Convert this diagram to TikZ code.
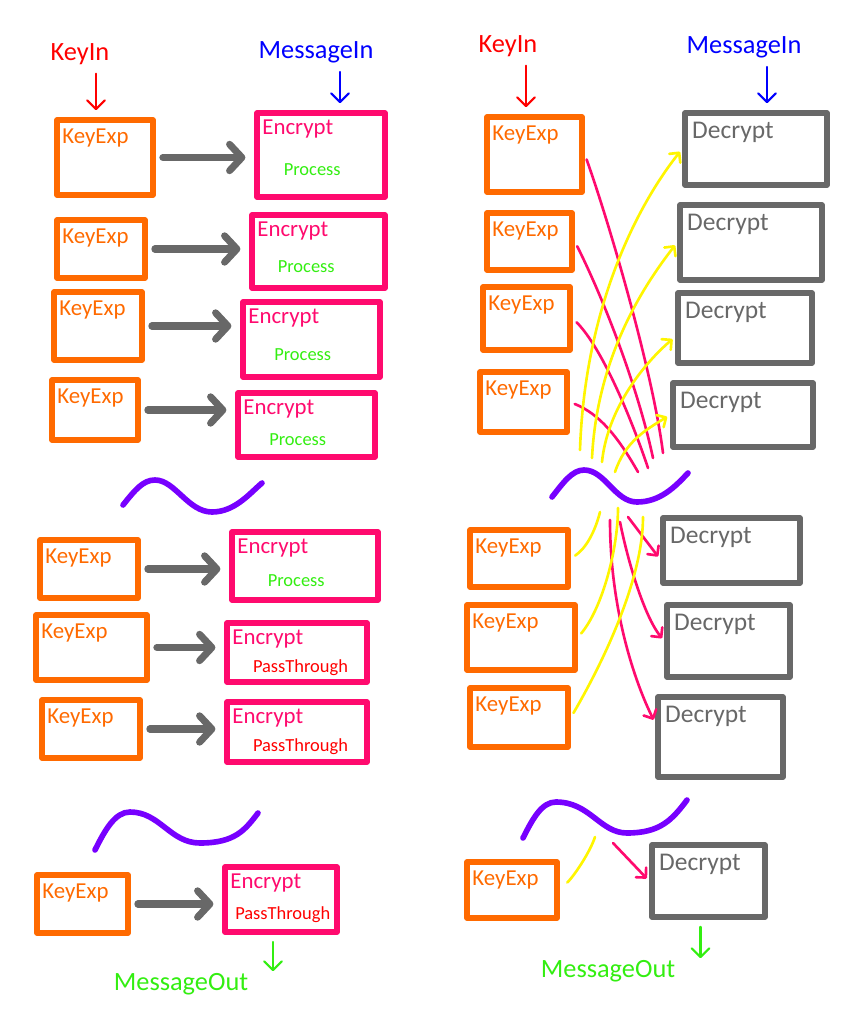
\documentclass[tikz,border=0pt]{standalone}
\usepackage{fontspec}
\setmainfont{Carlito}
\usepackage{tikz}
\usetikzlibrary{arrows.meta,fit,calc,positioning}

\definecolor{keyorange}{HTML}{FF6A00}
\definecolor{encpink}{HTML}{FF0A6E}
\definecolor{decgray}{HTML}{686868}
\definecolor{wavepurple}{HTML}{7700FF}
\definecolor{hiyellow}{HTML}{FFF500}
\definecolor{procgreen}{HTML}{33EE11}
\definecolor{keyred}{HTML}{FF0000}
\definecolor{msgblue}{HTML}{0000FF}

\begin{document}
\begin{tikzpicture} [
  x = 0.02cm, y = -0.02cm,
  box/.style = { line width = 3.2pt, inner sep = 0, line join = round },
  keybox/.style = { box, draw = keyorange },
  encbox/.style = { box, draw = encpink },
  decbox/.style = { box, draw = decgray },
  boxtxt/.style = { anchor = north west, inner sep = 0, xshift = 4.5pt, yshift = -6.5pt },
  keytxt/.style = { boxtxt, text = keyorange, font = \fontsize{13}{15}\selectfont },
  enctxt/.style = { boxtxt, text = encpink, yshift = 1pt, font = \fontsize{13}{15}\selectfont },
  dectxt/.style = { boxtxt, text = decgray, xshift = 1pt, font = \fontsize{14.5}{17}\selectfont },
  modetxt/.style = { anchor = center, inner sep = 0, yshift = -8.5pt, font = \fontsize{10.5}{12}\selectfont },
  iotxt/.style = { inner sep = 1pt, font = \fontsize{15}{18}\selectfont },
  ioarr/.style = { line width = 1.2pt, line cap = round, -{Straight Barb[round, length=5pt, width=10pt]},
                   shorten < = 4pt, shorten > = 4pt },
  steparr/.style = { draw = decgray, line width = 4pt, line cap = round,
                     -{Straight Barb[round, length=7pt, width=15pt]}, shorten < = 4pt, shorten > = 5pt },
  keyline/.style = { draw = encpink, line width = 1.5pt, line cap = round },
  msgline/.style = { draw = hiyellow, line width = 1.5pt, line cap = round },
  headed/.style = { -{Straight Barb[round, length=4pt, width=8pt]}, shorten > = 2pt },
  wave/.style = { draw = wavepurple, line width = 3.2pt, line cap = round }
  ]

  \useasboundingbox (0,0) rectangle (866,1034);

  % key expansion boxes
  \foreach \n/\xa/\ya/\xb/\yb in {
      kl1/57/120/153/195, kl2/57/220/145/278, kl3/54/292/142/360, kl4/52/380/138/440,
      kl5/40/540/138/598, kl6/36/615/147/680, kl7/42/700/140/758, kl8/37/875/128/933,
      kr1/487/117/582/192, kr2/487/213/572/270, kr3/483/287/570/350, kr4/480/372/567/432,
      kr5/470/530/568/587, kr6/467/605/575/670, kr7/470/688/568/747, kr8/467/862/557/918}
  {
    \node[keybox, fit={(\xa,\ya) (\xb,\yb)}] (\n) {};
    \node[keytxt] (t\n) at (\n.north west) {KeyExp};
  }

  % encrypt boxes
  \foreach \n/\xa/\ya/\xb/\yb/\md/\cl/\dx in {
      el1/257/113/385/197/Process/procgreen/-5pt, el2/252/215/385/288/Process/procgreen/-7pt,
      el3/243/302/380/377/Process/procgreen/-5pt, el4/238/393/375/457/Process/procgreen/-5pt,
      el5/232/532/378/600/Process/procgreen/-5pt, el6/227/623/367/682/PassThrough/keyred/2pt,
      el7/227/702/367/762/PassThrough/keyred/2pt, el8/225/867/337/932/PassThrough/keyred/1pt}
  {
    \node[encbox, fit={(\xa,\ya) (\xb,\yb)}] (\n) {};
    \node[enctxt] (t\n) at (\n.north west) {Encrypt};
    \node[modetxt, text = \cl, xshift = \dx] (m\n) at (\n.center) {\md};
  }

  % decrypt boxes
  \foreach \n/\xa/\ya/\xb/\yb in {
      dr1/685/113/827/185, dr2/680/205/822/280, dr3/678/293/812/363, dr4/673/383/813/447,
      dr5/663/518/800/583, dr6/667/605/790/677, dr7/658/697/783/777, dr8/652/845/765/917}
  {
    \node[decbox, fit={(\xa,\ya) (\xb,\yb)}] (\n) {};
    \node[dectxt] (t\n) at (\n.north west) {Decrypt};
  }

  % inputs and outputs
  \node[iotxt, text = keyred] (kinl) at (80,54) {KeyIn};
  \node[iotxt, text = msgblue] (minl) at (316,52) {MessageIn};
  \node[iotxt, text = keyred] (kinr) at (508,46) {KeyIn};
  \node[iotxt, text = msgblue] (minr) at (744,47) {MessageIn};
  \node[iotxt, text = procgreen] (moutl) at (181,984) {MessageOut};
  \node[iotxt, text = procgreen] (moutr) at (608,971) {MessageOut};

  \draw[ioarr, keyred] ($(kinl.south)+(16,0)$) -- ($(kinl.south |- kl1.north)+(16,0)$);
  \draw[ioarr, msgblue] ($(minl.south)+(24,0)$) -- ($(minl.south |- el1.north)+(24,0)$);
  \draw[ioarr, keyred] ($(kinr.south)+(18,0)$) -- ($(kinr.south |- kr1.north)+(18,0)$);
  \draw[ioarr, msgblue] ($(minr.south)+(23,0)$) -- ($(minr.south |- dr1.north)+(23,0)$);
  \draw[ioarr, procgreen, shorten > = 0pt] ($(el8.south)+(-8,0)$) -- ($(el8.south |- moutl.north)+(-8,0)$);
  \draw[ioarr, procgreen, shorten > = 0pt] ($(dr8.south)+(-8,0)$) -- ($(dr8.south |- moutr.north)+(-8,0)$);

  % one step per round
  \foreach \i in {1,...,8}
    \draw[steparr] (kl\i.east) -- (kl\i.east -| el\i.west);

  % the gaps
  \draw[wave] (123,505) .. controls (135,490) and (143,480) .. (155,480)
              .. controls (175,480) and (188,512) .. (212,512)
              .. controls (235,512) and (250,493) .. (262,483);
  \draw[wave] (95,850) .. controls (105,830) and (115,812) .. (130,812)
              .. controls (160,812) and (170,843) .. (200,843)
              .. controls (235,843) and (245,830) .. (258,813);
  \draw[wave] (552,497) .. controls (563,483) and (572,470) .. (584,470)
              .. controls (605,470) and (615,502) .. (637,502)
              .. controls (660,502) and (675,487) .. (688,473);
  \draw[wave] (523,838) .. controls (533,818) and (542,802) .. (556,802)
              .. controls (590,802) and (600,833) .. (627,833)
              .. controls (660,833) and (672,820) .. (687,800);

  % keys run down, messages run up
  \coordinate (ku1) at (663,453);
  \coordinate (ku2) at (653,458);
  \coordinate (ku3) at (648,468);
  \coordinate (ku4) at (638,472);
  \coordinate (kd1) at (628,517);
  \coordinate (kd2) at (620,522);
  \coordinate (kd3) at (610,520);
  \coordinate (kd4) at (613,843);
  \coordinate (mu1) at (580,450);
  \coordinate (mu2) at (592,458);
  \coordinate (mu3) at (602,462);
  \coordinate (mu4) at (615,472);
  \coordinate (md1) at (600,512);
  \coordinate (md2) at (618,508);
  \coordinate (md3) at (643,517);
  \coordinate (md4) at (595,837);

  \draw[keyline, shorten < = 3pt] (kr1.east) .. controls +(25,70) and +(-10,-80) .. (ku1);
  \draw[keyline, shorten < = 3pt] (kr2.east) .. controls +(30,60) and +(-15,-70) .. (ku2);
  \draw[keyline, shorten < = 3pt] (kr3.east) .. controls +(30,30) and +(-15,-45) .. (ku3);
  \draw[keyline, shorten < = 3pt] (kr4.east) .. controls +(30,12) and +(-20,-35) .. (ku4);
  \draw[keyline, headed] (kd1) -- ([yshift=-5pt]dr5.west);
  \draw[keyline, headed] (kd2) .. controls +(8,40) and +(-20,-25) .. (dr6.west);
  \draw[keyline, headed] (kd3) .. controls +(0,90) and +(-20,-40) .. ([yshift=8pt]dr7.west);
  \draw[keyline, headed] (kd4) -- (dr8.west);

  \draw[msgline, headed] (mu1) .. controls +(5,-150) and +(-40,50) .. (dr1.west);
  \draw[msgline, headed] (mu2) .. controls +(5,-100) and +(-35,45) .. (dr2.west);
  \draw[msgline, headed] (mu3) .. controls +(5,-50) and +(-35,30) .. ([yshift=-5pt]dr3.west);
  \draw[msgline, headed] (mu4) .. controls +(10,-30) and +(-25,15) .. (dr4.west);
  \draw[msgline, shorten < = 3pt] (kr5.east) .. controls +(15,-10) and +(-5,20) .. (md1);
  \draw[msgline, shorten < = 3pt] (kr6.east) .. controls +(25,-30) and +(0,40) .. (md2);
  \draw[msgline, shorten < = 3pt] (kr7.east) .. controls +(35,-60) and +(0,60) .. (md3);
  \draw[msgline, shorten < = 6pt] (kr8.east) .. controls +(15,-15) and +(-5,15) .. (md4);
\end{tikzpicture}
\end{document}
